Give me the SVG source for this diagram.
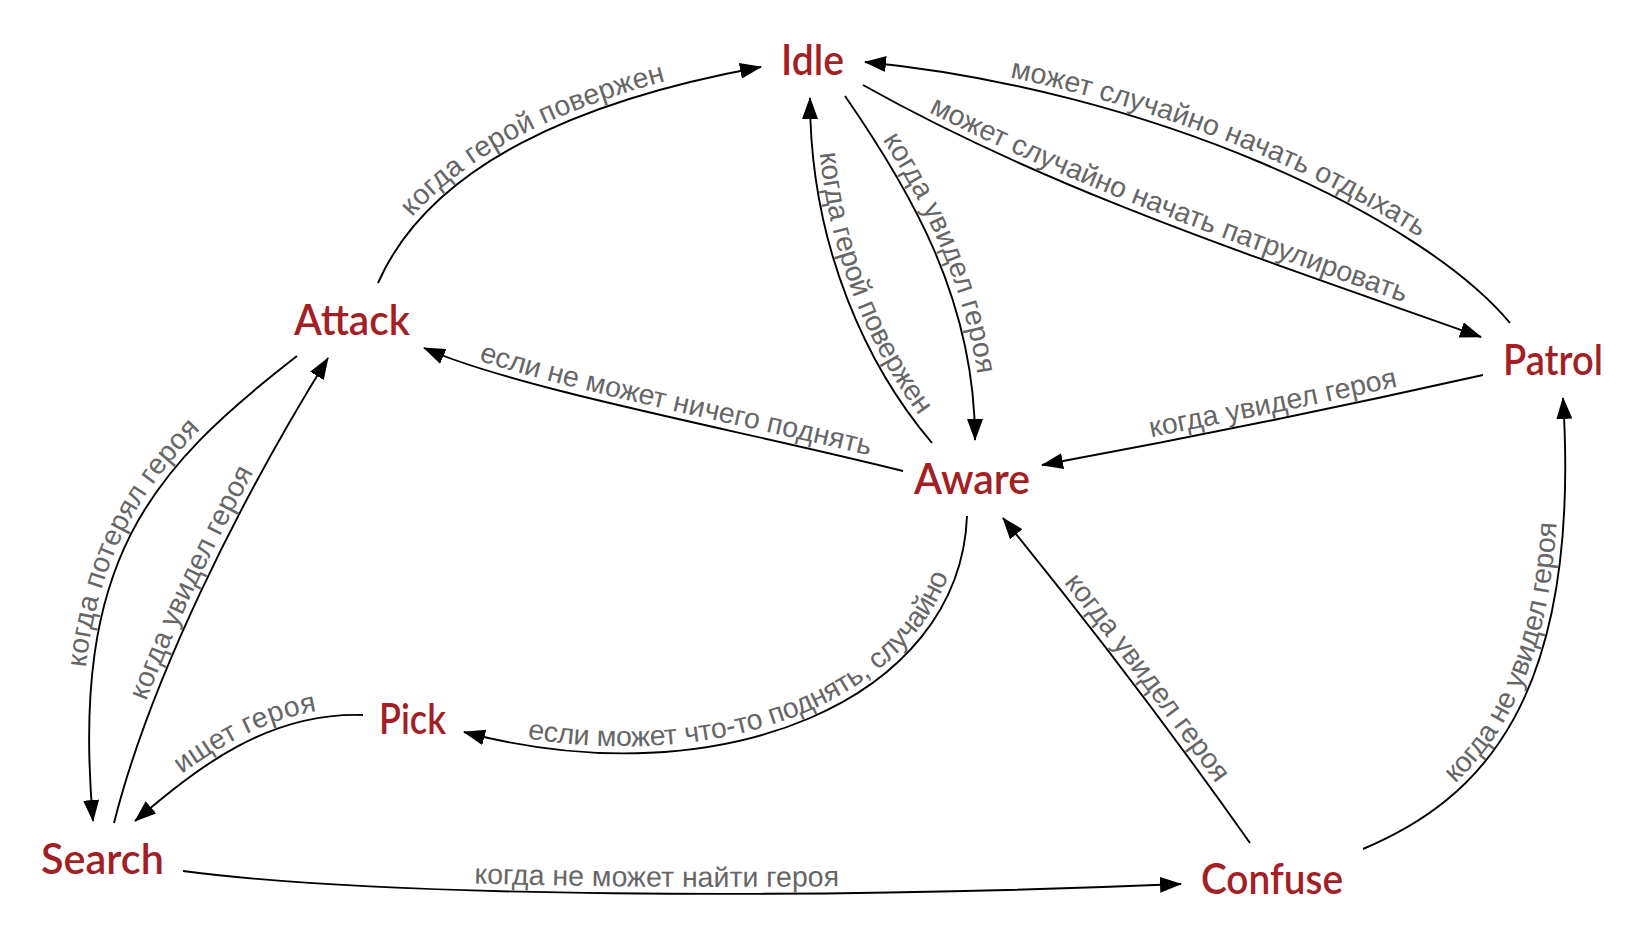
<svg xmlns="http://www.w3.org/2000/svg" xmlns:xlink="http://www.w3.org/1999/xlink" width="1642" height="934" viewBox="0 0 1642 934">
<style>
.node{font-family:Lato,"Noto Sans",sans-serif;font-weight:600;font-size:43px;fill:#a31f26;text-anchor:middle}
.edge{fill:none;stroke:#000;stroke-width:1.9;marker-end:url(#arr)}
.lbl{font-family:"Liberation Sans",Arial,sans-serif;font-size:28.5px;fill:#666;text-anchor:middle}
</style>
<defs>
<marker id="arr" viewBox="0 0 22 16" markerWidth="22" markerHeight="16" refX="21" refY="8" orient="auto" markerUnits="userSpaceOnUse"><path d="M0,0 L22,8 L0,16 z" fill="#000"/></marker>
<path id="r2" d="M865,62 C1150,90 1420,215 1510,323"/>
<path id="r4" d="M810,98 C810,250 870,370 932,443"/>
<path id="r6" d="M424,348 C520,390 740,430 903,471"/>
<path id="r7" d="M1042,465 Q1260,425 1483,375"/>
<path id="r8" d="M93,821 C70,560 150,470 297,356"/>
<path id="r10" d="M135,821 C200,765 270,712 363,715"/>
<path id="r11" d="M464,732 C720,800 960,700 967,516"/>
<path id="r13" d="M1003,518 Q1135,680 1250,843"/>
</defs>
<rect width="1642" height="934" fill="#fff"/>
<g id="connectors">
<path id="e1" class="edge" d="M378,283 C430,165 580,100 761,67"/>
<path id="e2" class="edge" d="M1510,323 C1420,215 1150,90 865,62"/>
<path id="e3" class="edge" d="M863,85 C1050,190 1250,255 1481,337"/>
<path id="e4" class="edge" d="M932,443 C870,370 810,250 810,98"/>
<path id="e5" class="edge" d="M845,96 C910,190 975,300 975,440"/>
<path id="e6" class="edge" d="M903,471 C740,430 520,390 424,348"/>
<path id="e7" class="edge" d="M1483,375 Q1260,425 1042,465"/>
<path id="e8" class="edge" d="M297,356 C150,470 70,560 93,821"/>
<path id="e9" class="edge" d="M114,823 C150,680 240,500 328,358"/>
<path id="e10" class="edge" d="M363,715 C270,712 200,765 135,821"/>
<path id="e11" class="edge" d="M967,516 C960,700 720,800 464,732"/>
<path id="e12" class="edge" d="M183,871 C380,897 800,900 1181,884"/>
<path id="e13" class="edge" d="M1250,843 Q1135,680 1003,518"/>
<path id="e14" class="edge" d="M1363,849 C1480,800 1582,700 1563,398"/>
</g>
<g id="labels">
<text class="lbl" dy="-7"><textPath href="#e1" xlink:href="#e1" startOffset="47.5%">когда герой повержен</textPath></text>
<text class="lbl" dy="-7"><textPath href="#r2" xlink:href="#r2" startOffset="51.5%">может случайно начать отдыхать</textPath></text>
<text class="lbl" dy="-7"><textPath href="#e3" xlink:href="#e3" startOffset="49%">может случайно начать патрулировать</textPath></text>
<text class="lbl" dy="-7"><textPath href="#r4" xlink:href="#r4" startOffset="53.5%">когда герой повержен</textPath></text>
<text class="lbl" dy="-7"><textPath href="#e5" xlink:href="#e5" startOffset="49%">когда увидел героя</textPath></text>
<text class="lbl" dy="-7"><textPath href="#r6" xlink:href="#r6" startOffset="52%">если не может ничего поднять</textPath></text>
<text class="lbl" dy="-7"><textPath href="#r7" xlink:href="#r7" startOffset="53%">когда увидел героя</textPath></text>
<text class="lbl" dy="-7"><textPath href="#r8" xlink:href="#r8" startOffset="53%">когда потерял героя</textPath></text>
<text class="lbl" dy="-7"><textPath href="#e9" xlink:href="#e9" startOffset="49%">когда увидел героя</textPath></text>
<text class="lbl" dy="-7"><textPath href="#r10" xlink:href="#r10" startOffset="54%">ищет героя</textPath></text>
<text class="lbl" dy="-7"><textPath href="#r11" xlink:href="#r11" startOffset="50%">если может что-то поднять, случайно</textPath></text>
<text class="lbl" dy="-7"><textPath href="#e12" xlink:href="#e12" startOffset="47.5%">когда не может найти героя</textPath></text>
<text class="lbl" dy="-7"><textPath href="#r13" xlink:href="#r13" startOffset="52.5%">когда увидел героя</textPath></text>
<text class="lbl" dy="-7"><textPath href="#e14" xlink:href="#e14" startOffset="49%">когда не увидел героя</textPath></text>
</g>
<g id="node-idle"><text class="node" x="812.5" y="75" textLength="63" lengthAdjust="spacingAndGlyphs">Idle</text></g>
<g id="node-attack"><text class="node" x="352" y="335" textLength="116" lengthAdjust="spacingAndGlyphs">Attack</text></g>
<g id="node-patrol"><text class="node" x="1553" y="375" textLength="100" lengthAdjust="spacingAndGlyphs">Patrol</text></g>
<g id="node-aware"><text class="node" x="972" y="494" textLength="116" lengthAdjust="spacingAndGlyphs">Aware</text></g>
<g id="node-pick"><text class="node" x="412.5" y="734" textLength="67" lengthAdjust="spacingAndGlyphs">Pick</text></g>
<g id="node-search"><text class="node" x="102.5" y="874" textLength="123" lengthAdjust="spacingAndGlyphs">Search</text></g>
<g id="node-confuse"><text class="node" x="1272" y="894" textLength="142" lengthAdjust="spacingAndGlyphs">Confuse</text></g>
</svg>
